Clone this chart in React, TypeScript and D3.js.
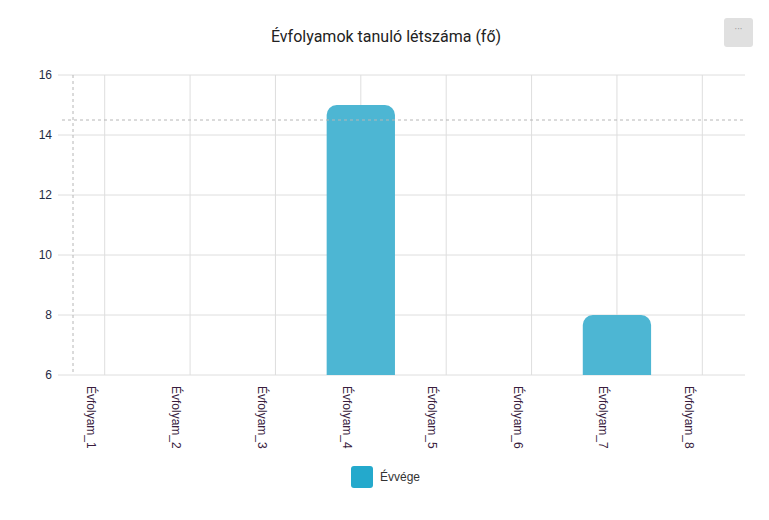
import { useEffect, useRef } from "react";
import * as d3 from "d3";

const categories = [
  "Évfolyam_1",
  "Évfolyam_2",
  "Évfolyam_3",
  "Évfolyam_4",
  "Évfolyam_5",
  "Évfolyam_6",
  "Évfolyam_7",
  "Évfolyam_8",
];
const values = [0, 0, 0, 15, 0, 0, 8, 0];
const yTicks = [6, 8, 10, 12, 14, 16];
const seriesName = "Évvége";
const title = "Évfolyamok tanuló létszáma (fő)";

const BAR = "#4db6d3";
const LEGEND = "#24a9cc";
const GRID = "#dedede";
const TEXT = "#333";
const FONT = "Roboto, 'Noto Sans', sans-serif";
const LABEL_FONT = "Arial, 'Liberation Sans', sans-serif";

export default function App() {
  const ref = useRef<SVGSVGElement>(null);

  useEffect(() => {
    if (!ref.current) return;
    const svg = d3.select(ref.current);
    svg.selectAll("*").remove();

    const W = 769;
    const H = 520;
    const left = 62;
    const right = 745;
    const top = 75;
    const bottom = 375;

    const x = d3.scaleBand<string>().domain(categories).range([left, right]).paddingInner(0).paddingOuter(0);
    const y = d3.scaleLinear().domain([6, 16]).range([bottom, top]);

    svg.append("rect").attr("width", W).attr("height", H).attr("fill", "#fff");

    // title
    svg
      .append("text")
      .attr("x", 386)
      .attr("y", 42)
      .attr("text-anchor", "middle")
      .attr("font-family", FONT)
      .attr("font-size", "16px")
      .attr("fill", "#222")
      .text(title);

    // menu button
    svg
      .append("rect")
      .attr("x", 724)
      .attr("y", 18)
      .attr("width", 29)
      .attr("height", 29)
      .attr("rx", 3)
      .attr("fill", "#e0e0e0");
    svg
      .append("text")
      .attr("x", 738.5)
      .attr("y", 33)
      .attr("text-anchor", "middle")
      .attr("font-family", FONT)
      .attr("font-size", "10px")
      .attr("fill", "#999")
      .text("···");

    // horizontal grid + y ticks
    yTicks.forEach((t) => {
      svg
        .append("line")
        .attr("x1", left - 4)
        .attr("x2", right)
        .attr("y1", y(t))
        .attr("y2", y(t))
        .attr("stroke", GRID)
        .attr("stroke-width", 1);
      svg
        .append("text")
        .attr("x", 52)
        .attr("y", y(t))
        .attr("dy", "0.35em")
        .attr("text-anchor", "end")
        .attr("font-family", LABEL_FONT)
        .attr("font-size", "12px")
        .attr("fill", "#1e2a44")
        .text(t);
    });

    // vertical grid at band centers
    categories.forEach((c) => {
      const cx = (x(c) ?? 0) + x.bandwidth() / 2;
      svg
        .append("line")
        .attr("x1", cx)
        .attr("x2", cx)
        .attr("y1", top)
        .attr("y2", bottom)
        .attr("stroke", GRID)
        .attr("stroke-width", 1);
    });

    // bars with rounded tops
    const bw = x.bandwidth() * 0.8;
    const r = 10;
    categories.forEach((c, i) => {
      const v = values[i];
      if (v <= 6) return;
      const x0 = (x(c) ?? 0) + (x.bandwidth() - bw) / 2;
      const x1 = x0 + bw;
      const y0 = y(v);
      const path = d3.path();
      path.moveTo(x0, bottom);
      path.lineTo(x0, y0 + r);
      path.arcTo(x0, y0, x0 + r, y0, r);
      path.lineTo(x1 - r, y0);
      path.arcTo(x1, y0, x1, y0 + r, r);
      path.lineTo(x1, bottom);
      path.closePath();
      svg.append("path").attr("d", path.toString()).attr("fill", BAR);
    });

    // crosshairs
    svg
      .append("line")
      .attr("x1", 73)
      .attr("x2", 73)
      .attr("y1", top)
      .attr("y2", bottom)
      .attr("stroke", "#b6b6b6")
      .attr("stroke-dasharray", "3 3");
    svg
      .append("line")
      .attr("x1", left)
      .attr("x2", right)
      .attr("y1", y(14.5))
      .attr("y2", y(14.5))
      .attr("stroke", "#b6b6b6")
      .attr("stroke-dasharray", "3 3");

    // x labels, rotated
    categories.forEach((c) => {
      const cx = (x(c) ?? 0) + x.bandwidth() / 2 - 22;
      svg
        .append("text")
        .attr("transform", `translate(${cx},${bottom + 11}) rotate(90)`)
        .attr("dy", "-0.35em")
        .attr("text-anchor", "start")
        .attr("font-family", LABEL_FONT)
        .attr("font-size", "12px")
        .attr("fill", "#3a1d3e")
        .text(c);
    });

    // legend
    svg
      .append("rect")
      .attr("x", 351)
      .attr("y", 466)
      .attr("width", 22)
      .attr("height", 22)
      .attr("rx", 3)
      .attr("fill", LEGEND);
    svg
      .append("text")
      .attr("x", 380)
      .attr("y", 477)
      .attr("dy", "0.35em")
      .attr("font-family", LABEL_FONT)
      .attr("font-size", "12px")
      .attr("fill", TEXT)
      .text(seriesName);
  }, []);

  return (
    <svg
      ref={ref}
      width={769}
      height={520}
      style={{ position: "absolute", left: 0, top: 0, display: "block" }}
    />
  );
}
